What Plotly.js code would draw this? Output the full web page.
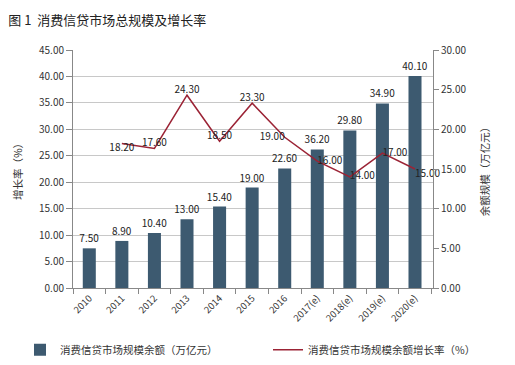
<!DOCTYPE html>
<html>
<head>
<meta charset="utf-8">
<script src="https://cdn.plot.ly/plotly-3.0.1.min.js"></script>
<style>html,body{margin:0;padding:0;background:#fff}#chart{width:515px;height:365px}</style>
</head>
<body>
<div id="chart"></div>
<script>
var years = ["2010","2011","2012","2013","2014","2015","2016","2017(e)","2018(e)","2019(e)","2020(e)"];
var balance = [7.5, 8.9, 10.4, 13.0, 15.4, 19.0, 22.6, 26.2, 29.8, 34.9, 40.1];
var balanceLabels = ["7.50","8.90","10.40","13.00","15.40","19.00","22.60","36.20","29.80","34.90","40.10"];
var growthYears = ["2011","2012","2013","2014","2015","2016","2017(e)","2018(e)","2019(e)","2020(e)"];
var growth = [18.2, 17.6, 24.3, 18.5, 23.3, 19.0, 16.0, 14.0, 17.0, 15.0];
var growthLabels = ["18.20","17.60","24.30","18.50","23.30","19.00","16.00","14.00","17.00","15.00"];
var growthLabelPos = ["bottom center","top center","top center","top center","top center","middle left","middle right","middle right","middle right","bottom right"];

var FONT = "Noto Sans CJK SC, Noto Sans, sans-serif";
var traces = [
  {
    type: "bar", x: years, y: balance, name: "消费信贷市场规模余额（万亿元）",
    marker: {color: "#3d5a70"}, legend: "legend",
    text: balanceLabels, textposition: "outside", cliponaxis: false, constraintext: "none",
    textfont: {size: 10, color: "#222", family: FONT}
  },
  {
    type: "scatter", mode: "lines+text", x: growthYears, y: growth, yaxis: "y2", legend: "legend2",
    name: "消费信贷市场规模余额增长率（%）",
    line: {color: "#9b2335", width: 1.5},
    text: growthLabels, textposition: growthLabelPos, cliponaxis: false,
    textfont: {size: 10, color: "#222", family: FONT}
  }
];
var legendCommon = {orientation: "h", xanchor: "left", yref: "container", y: 0.042, yanchor: "middle",
  font: {size: 10.5, color: "#333", family: FONT}, bgcolor: "rgba(0,0,0,0)"};
var layout = {
  width: 515, height: 365,
  margin: {l: 73, r: 82, t: 50, b: 77},
  paper_bgcolor: "#fff", plot_bgcolor: "#fff",
  font: {family: FONT, color: "#333", size: 10},
  title: {text: "图 1  消费信贷市场总规模及增长率", x: 0.016, xref: "container", xanchor: "left",
          y: 0.945, yref: "container", yanchor: "middle", font: {size: 13, color: "#222", family: FONT}},
  bargap: 0.6,
  showlegend: true,
  legend: Object.assign({}, legendCommon, {x: 20/515, xref: "container"}),
  legend2: Object.assign({}, legendCommon, {x: 268/515, xref: "container"}),
  xaxis: {
    type: "category", tickangle: -45, tickson: "boundaries", ticks: "outside", ticklen: 5,
    tickcolor: "#888", showline: true, linecolor: "#888", linewidth: 1,
    tickfont: {size: 9.5, color: "#333"}, showgrid: false
  },
  yaxis: {
    range: [0, 45], dtick: 5, tickformat: ".2f", ticks: "outside", ticklen: 6, tickcolor: "#888",
    showline: true, linecolor: "#888", gridcolor: "#c8c8c8", gridwidth: 1, zeroline: false,
    tickfont: {size: 10, color: "#333"},
    title: {text: "增长率（%）", font: {size: 10.5, color: "#333"}, standoff: 14}
  },
  yaxis2: {
    overlaying: "y", side: "right", range: [0, 30], dtick: 5, tickformat: ".2f",
    ticks: "outside", ticklen: 5, tickcolor: "#888", showline: true, linecolor: "#888",
    showgrid: false, zeroline: false, tickfont: {size: 10, color: "#333"},
    title: {text: "余额规模（万亿元）", font: {size: 10.5, color: "#333"}, standoff: 16}
  }
};
Plotly.newPlot("chart", traces, layout, {displayModeBar: false, staticPlot: true});
</script>
</body>
</html>
